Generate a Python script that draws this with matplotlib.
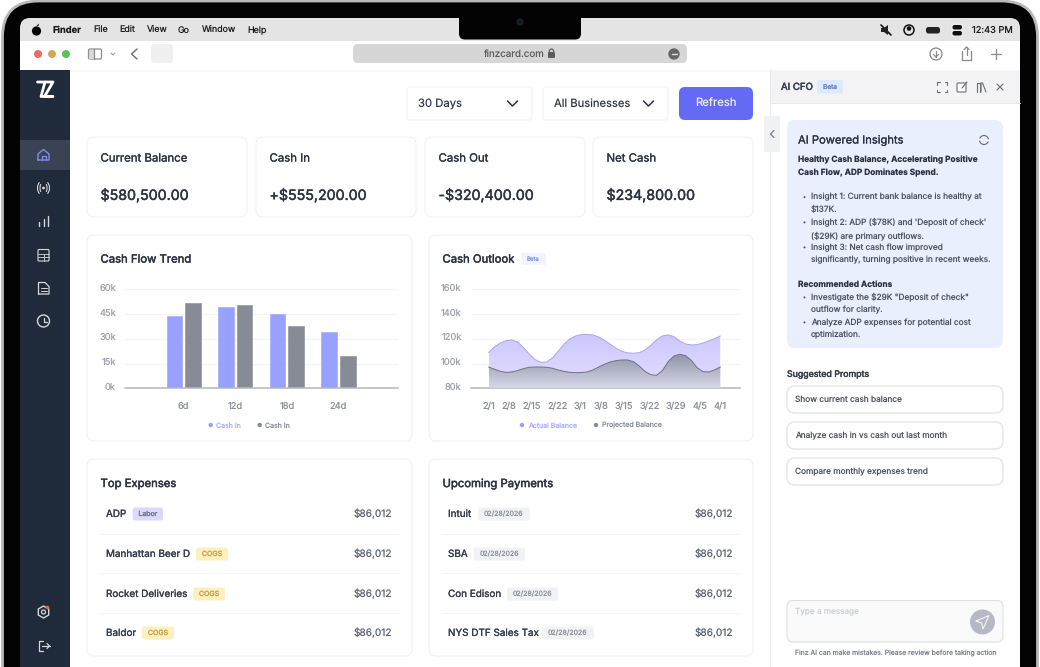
import numpy as np
import matplotlib
matplotlib.use("Agg")
import matplotlib.pyplot as plt
import matplotlib.patheffects as pe
from matplotlib.patches import FancyBboxPatch, Circle, Rectangle, Polygon, Arc
from matplotlib.transforms import ScaledTranslation

plt.rcParams["font.family"] = ["Inter", "DejaVu Sans"]
plt.rcParams["text.hinting"] = "no_hinting"
plt.rcParams["text.hinting_factor"] = 1

# Cash Flow Trend
flow_days = ["6d", "12d", "18d", "24d"]
flow_ticks = [0, 15, 30, 45, 60]
cash_in = [43.8, 49.1, 45.0, 34.1]
cash_out = [51.9, 50.7, 38.0, 19.4]

# Cash Outlook
outlook_labels = ["2/1", "2/8", "2/15", "2/22", "3/1", "3/8", "3/15", "3/22", "3/29", "4/5", "4/1"]
outlook_label_pos = [0, 0.88, 1.86, 2.97, 3.96, 4.86, 5.84, 6.95, 8.09, 9.11, 10]
outlook_ticks = [80, 100, 120, 140, 160]
outlook_x = [i / 4 for i in range(41)]
actual_balance = [109.1, 113.4, 116.6, 118.5, 119.1, 117.4, 112.9, 107.7, 103.2, 101.0, 101.3,
                  104.5, 109.9, 115.6, 119.9, 122.3, 123.4, 123.6, 123.1, 121.5, 118.8,
                  115.6, 112.3, 109.9, 108.6, 108.3, 108.8, 111.0, 114.7, 119.1, 122.3,
                  123.1, 121.8, 118.2, 115.8, 115.0, 115.3, 116.6, 118.2, 120.1, 122.3]
projected_balance = [97.2, 95.4, 93.7, 92.9, 93.2, 94.3, 95.9, 97.0, 97.2, 97.2, 97.0,
                     96.2, 94.8, 93.7, 92.9, 92.7, 92.7, 93.2, 94.8, 97.2, 99.4,
                     101.3, 102.4, 102.9, 102.9, 101.5, 98.0, 93.7, 91.0, 90.5, 94.3,
                     101.5, 106.1, 107.5, 106.4, 102.6, 96.7, 93.5, 93.2, 94.8, 97.2]

# Summary cards
card_titles = ["Current Balance", "Cash In", "Cash Out", "Net Cash"]
card_values = ["$580,500.00", "+$555,200.00", "-$320,400.00", "$234,800.00"]

# Lists
expense_names = ["ADP", "Manhattan Beer D", "Rocket Deliveries", "Baldor"]
expense_tags = ["Labor", "COGS", "COGS", "COGS"]
payment_names = ["Intuit", "SBA", "Con Edison", "NYS DTF Sales Tax"]
payment_date = "02/28/2026"
row_amount = "$86,012"

W, H = 1040, 667
DARK = "#2b3342"
GREY = "#a0a3ab"
BORDER = "#eff0f2"
STROKE = {"medium": 0.18, "semibold": 0.32}

fig = plt.figure(figsize=(W / 100, H / 100), dpi=100, facecolor="white")
ui = fig.add_axes([0, 0, 1, 1])
ui.set_xlim(0, W)
ui.set_ylim(H, 0)
ui.axis("off")


def box(x0, y0, x1, y1, r=0, fc="white", ec="none", lw=1, z=1):
    p = FancyBboxPatch((x0, y0), x1 - x0, y1 - y0, boxstyle=f"round,pad=0,rounding_size={r}",
                       fc=fc, ec=ec, lw=lw, zorder=z)
    ui.add_patch(p)
    return p


def txt(x, y, s, px=10, color=DARK, weight="normal", ha="left", z=5):
    # no medium or semibold cut of the font, so thicken the regular one
    extra = STROKE.get(weight)
    t = ui.text(x, y + 0.7, s, fontsize=px * 0.72, color=color, ha=ha, va="center", zorder=z,
                fontweight="normal" if extra else weight)
    if extra:
        t.set_path_effects([pe.withStroke(linewidth=extra, foreground=color)])


def line(xs, ys, color="#555555", lw=1, z=4):
    ui.plot(xs, ys, color=color, lw=lw, zorder=z, solid_capstyle="round", solid_joinstyle="round")


def ring(x, y, r, color, lw=1, fc="none", z=4):
    ui.add_patch(Circle((x, y), r, fc=fc, ec=color, lw=lw, zorder=z))


def chart_axes(x0, y0, x1, y1):
    ax = fig.add_axes([x0 / W, 1 - y1 / H, (x1 - x0) / W, (y1 - y0) / H])
    ax.patch.set_alpha(0)
    for s in ["top", "left", "right"]:
        ax.spines[s].set_visible(False)
    ax.spines["bottom"].set_color("#b4b6bf")
    ax.spines["bottom"].set_linewidth(1.1)
    ax.grid(axis="y", color="#f3f4f6", lw=0.8)
    ax.set_axisbelow(True)
    ax.tick_params(axis="y", length=0, pad=6.5, labelsize=6.7, labelcolor=GREY)
    ax.tick_params(axis="x", length=0, pad=10, labelsize=6.7, labelcolor="#8d9099")
    return ax


def nudge_labels(ax):
    # y labels sit a bit above their gridline
    shift = ScaledTranslation(0, 2 / 100, fig.dpi_scale_trans)
    for lab in ax.get_yticklabels():
        lab.set_transform(lab.get_transform() + shift)


def gradient_fill(ax, xs, ys, top, bottom, base, z):
    poly = ax.fill_between(xs, ys, base, color="none", lw=0)
    grad = np.linspace(np.array(top), np.array(bottom), 128).reshape(128, 1, 4)
    im = ax.imshow(grad, extent=[xs[0], xs[-1], base, max(ys)], aspect="auto", origin="upper", zorder=z)
    im.set_clip_path(poly.get_paths()[0], transform=ax.transData)


# laptop frame
box(2.5, 1, 1037.5, 760, r=36, fc="#030303", ec="#b9b9bb", lw=2)
box(20, 18, 1020, 100, r=10, fc="#e4e4e4", z=1)
ui.add_patch(Rectangle((20, 41), 1000, 640, fc="white", ec="none", zorder=1))
box(459, 6, 581, 39.5, r=6, fc="#030303", z=2)
ring(520, 22, 3, "#1b1f2a", fc="#14171f", z=3)

# menu bar
ui.add_patch(Circle((36.5, 31), 4.6, fc="black", ec="none", zorder=4))
ui.add_patch(Polygon([[36.5, 26], [39, 23.5], [38.5, 26]], fc="black", ec="none", zorder=4))
for x, s, wt in [(53, "Finder", "bold"), (93, "File", "normal"), (119, "Edit", "normal"),
                 (147, "View", "normal"), (178, "Go", "normal"), (202, "Window", "normal"),
                 (247.5, "Help", "normal")]:
    txt(x, 29.8, s, 9.3 if wt == "bold" else 8.9, "#1c1c1e", wt)
line([881, 891], [25, 35], "#111111", 1.2)
ui.add_patch(Polygon([[881, 28], [884, 28], [888, 25], [888, 35], [884, 32], [881, 32]], fc="#222222", zorder=4))
ring(909, 30, 5, "#111111", 1.1)
ring(909, 28.5, 1.6, "#111111", fc="#111111")
box(926, 27, 940, 33.5, r=2.5, fc="#222222")
box(951, 23.5, 963, 37, r=2, fc="#ececec", z=2)
box(952.5, 25, 962, 29.5, r=2, fc="#111111", z=3)
box(952.5, 31, 962, 35.5, r=2, fc="#111111", z=3)
txt(972, 29.8, "12:43 PM", 9.3, "#1c1c1e")

# browser toolbar
for x, c in [(38, "#ec6a5e"), (52, "#d8a44f"), (66, "#5ac05a")]:
    ui.add_patch(Circle((x, 54), 4, fc=c, ec="none", zorder=4))
box(88.5, 49, 101.5, 59, r=1.5, ec="#8c8c8c", lw=0.9)
line([93.5, 93.5], [49, 59], "#8c8c8c", 0.9)
ui.add_patch(Rectangle((89, 49.5), 4.5, 9, fc="#d8d8d8", zorder=3))
line([111, 113, 115], [53, 55, 53], "#9a9a9a", 0.8)
line([137, 131.5, 137], [49, 54, 59], "#777777", 1.1)
box(151, 44, 173, 63, r=4, fc="#f0f0f0")
box(353, 44, 687, 63, r=5, fc="#d6d6d6")
txt(483, 53.5, "finzcard.com", 9.8, "#5c5c5c")
box(548, 52, 555, 58, r=1, fc="#5c5c5c", z=3)
ui.add_patch(Arc((551.5, 52), 4.4, 6, theta1=180, theta2=360, ec="#5c5c5c", lw=0.9, zorder=3))
ring(674, 54, 5, "#666666", fc="#666666")
line([671.5, 676.5], [54, 54], "#dddddd", 1, z=5)
ring(936, 54, 6, "#8a8a8a", 0.9)
line([936, 936], [50.5, 57], "#8a8a8a", 0.9)
line([933.5, 936, 938.5], [54.5, 57, 54.5], "#8a8a8a", 0.9)
line([962, 962, 971, 971], [51, 60, 60, 51], "#8a8a8a", 0.9)
line([966.5, 966.5], [47, 55], "#8a8a8a", 0.9)
line([964, 966.5, 969], [49.5, 47, 49.5], "#8a8a8a", 0.9)
line([995.5, 995.5], [49, 59], "#8a8a8a", 0.9)
line([990.5, 1000.5], [54, 54], "#8a8a8a", 0.9)

# sidebar
ui.add_patch(Rectangle((20, 70), 50, 600, fc="#1f2a3a", ec="none", zorder=2))
ui.add_patch(Rectangle((20, 140), 50, 30, fc="#3a4353", ec="none", zorder=3))
ui.add_patch(Rectangle((70, 70), 950, 2, fc="#f7f7f8", ec="none", zorder=2))
line([37.5, 45, 41, 52.5], [82, 82, 96.5, 96.5], "#ffffff", 2)
line([45.5, 53, 44.5, 53], [82, 82, 96.5, 96.5], "#ffffff", 2)
line([38, 38, 43.5, 49, 49, 38], [160, 154, 149.5, 154, 160, 160], "#7f8ce6", 1)
line([41.5, 41.5, 45.5, 45.5], [160, 156, 156, 160], "#7f8ce6", 0.9)
ui.add_patch(Circle((43.5, 188), 1.4, fc="#d5d8de", zorder=4))
for off in [3.5, 6]:
    ui.add_patch(Arc((43.5, 188), off * 2, 9 + off, theta1=-55, theta2=55, ec="#d5d8de", lw=0.8, zorder=4))
    ui.add_patch(Arc((43.5, 188), off * 2, 9 + off, theta1=125, theta2=235, ec="#d5d8de", lw=0.8, zorder=4))
line([39, 39], [226, 222], "#d5d8de", 1)
line([43.5, 43.5], [226, 219], "#d5d8de", 1)
line([48, 48], [226, 216], "#d5d8de", 1)
box(38, 249.5, 49, 261, r=1, fc="none", ec="#d5d8de", lw=0.8, z=4)
line([38, 49], [253.5, 253.5], "#d5d8de", 0.6)
line([38, 49], [257.3, 257.3], "#d5d8de", 0.6)
line([43.5, 43.5], [253.5, 261], "#d5d8de", 0.6)
line([38.5, 38.5, 45, 49, 49, 38.5], [294, 282.5, 282.5, 286.5, 294, 294], "#d5d8de", 0.9)
line([41, 46.5], [288, 288], "#d5d8de", 0.7)
line([41, 46.5], [291, 291], "#d5d8de", 0.7)
ring(43.5, 321, 6, "#d5d8de", 1)
line([43.5, 43.5, 46.5], [317.5, 321.5, 321.5], "#d5d8de", 0.9)
ring(43.5, 612, 2, "#d5d8de", 0.9)
ui.add_patch(Polygon([[43.5, 606], [48.7, 609], [48.7, 615], [43.5, 618], [38.3, 615], [38.3, 609]],
                     fc="none", ec="#d5d8de", lw=1, zorder=4))
ui.add_patch(Circle((47.5, 607.5), 1.8, fc="#e0654f", zorder=5))
line([43, 38.5, 38.5, 43], [641, 641, 651, 651], "#d5d8de", 0.9)
line([42, 49.5], [646, 646], "#d5d8de", 0.9)
line([47, 49.5, 47], [643.5, 646, 648.5], "#d5d8de", 0.9)

# filter row
box(407, 87, 532, 120, r=3, ec=BORDER, lw=0.7)
txt(418, 103.3, "30 Days", 11.3, "#343b4a")
line([507.5, 512.5, 517.5], [101, 106, 101], "#2b3342", 1.1)
box(543, 87, 668, 120, r=3, ec=BORDER, lw=0.7)
txt(554, 103.3, "All Businesses", 11.2, "#343b4a")
line([643.5, 648.5, 653.5], [101, 106, 101], "#2b3342", 1.1)
box(679, 87, 753, 120, r=6, fc="#656af5")
txt(716, 103.3, "Refresh", 11.3, "#eeeefd", ha="center")

# summary cards
for x0, x1, t, v in zip([87, 256, 425, 593], [247, 416, 585, 753], card_titles, card_values):
    box(x0, 137, x1, 217, r=7, ec=BORDER, lw=0.7)
    txt(x0 + 13.5, 157.8, t, 11.4, DARK, "medium")
    txt(x0 + 13.5, 194.8, v, 14.2, DARK, "semibold")

# chart cards
box(87, 235, 412, 441, r=7, ec=BORDER, lw=0.7)
box(429, 235, 753, 441, r=7, ec=BORDER, lw=0.7)
txt(100.5, 258.8, "Cash Flow Trend", 11.3, DARK, "semibold")
txt(442.5, 258.8, "Cash Outlook", 11.3, DARK, "semibold")
box(521, 253, 546, 265, r=2, fc="#f0f4fe")
txt(533.5, 258.5, "Beta", 6, "#7f8ee0", ha="center")

# bar chart
ax1 = chart_axes(125, 289.3, 398, 388.3)
pos = np.arange(len(flow_days))
ax1.bar(pos - 0.18, cash_in, 0.3, color="#99a1ff", ec="#99a1ff", lw=0.4)
ax1.bar(pos + 0.18, cash_out, 0.3, color="#868b96", ec="#868b96", lw=0.4)
ax1.set_xlim(-1.138, 4.153)
ax1.set_ylim(0, 60)
ax1.set_xticks(pos, flow_days)
ax1.set_yticks(flow_ticks, [f"{v}k" for v in flow_ticks])
nudge_labels(ax1)

ui.add_patch(Circle((210.7, 425), 2.2, fc="#99a1ff", zorder=4))
txt(216, 425, "Cash In", 7, "#a6acff")
ui.add_patch(Circle((259.7, 425), 2.2, fc="#868b96", zorder=4))
txt(265, 425, "Cash In", 7, "#868b96")

# area chart
ax2 = chart_axes(470.7, 289.3, 739.7, 388.3)
gradient_fill(ax2, outlook_x, actual_balance, (0.80, 0.78, 1, 1), (0.87, 0.85, 1, 0.85), 80, 2)
gradient_fill(ax2, outlook_x, projected_balance, (0.52, 0.54, 0.60, 0.9), (0.84, 0.85, 0.90, 0.85), 80, 3)
ax2.plot(outlook_x, actual_balance, color="#a9a5f0", lw=0.7, zorder=4)
ax2.plot(outlook_x, projected_balance, color="#6f737f", lw=0.7, zorder=4)
ax2.set_xlim(-0.777, 10.84)
ax2.set_ylim(80, 160)
ax2.set_xticks(outlook_label_pos, outlook_labels)
ax2.set_yticks(outlook_ticks, [f"{v}k" for v in outlook_ticks])
nudge_labels(ax2)

ui.add_patch(Circle((522, 425), 2.2, fc="#99a1ff", zorder=4))
txt(528, 425, "Actual Balance", 7, "#a6acff")
ui.add_patch(Circle((596, 425), 2.2, fc="#868b96", zorder=4))
txt(602, 425, "Projected Balance", 7, "#868b96")

# list cards
row_y = [514, 554, 594, 633]
box(87, 459, 412, 656, r=7, ec=BORDER, lw=0.7)
box(429, 459, 753, 656, r=7, ec=BORDER, lw=0.7)
txt(100.5, 483.2, "Top Expenses", 11.3, DARK, "semibold")
txt(442.5, 483.2, "Upcoming Payments", 11.3, DARK, "semibold")
for y in [533.7, 573, 612.5]:
    line([100, 398], [y, y], "#f3f4f5", 0.7, z=2)
    line([442, 739], [y, y], "#f3f4f5", 0.7, z=2)

tag_x = [(132.7, 163), (196, 228), (193, 225), (142, 174)]
for y, n, t, (tx0, tx1) in zip(row_y, expense_names, expense_tags, tag_x):
    txt(106, y - 0.5, n, 9.9, "#343b4a", "medium")
    fc, tc = ("#dcdafc", "#73728f") if t == "Labor" else ("#fdf0bf", "#c7a44c")
    box(tx0, y - 6.5, tx1, y + 6.5, r=2.5, fc=fc)
    txt((tx0 + tx1) / 2, y - 0.7, t, 7, tc, "medium", ha="center")
    txt(392, y - 0.5, row_amount, 10.1, "#5c6270", ha="right")

date_x = [(478.3, 529.7), (473.7, 525), (507, 558), (542, 593.7)]
for y, n, (tx0, tx1) in zip(row_y, payment_names, date_x):
    txt(448, y - 0.5, n, 9.9, "#343b4a", "medium")
    box(tx0, y - 6.5, tx1, y + 6.5, r=2.5, fc="#f1f2f4")
    txt((tx0 + tx1) / 2, y - 0.7, payment_date, 7, "#8a8e98", ha="center")
    txt(733.5, y - 0.5, row_amount, 10.1, "#5c6270", ha="right")

# AI panel
line([770, 770], [70, 670], "#e9eaed", 0.8, z=3)
ui.add_patch(Rectangle((770.5, 71), 249.5, 32, fc="#f3f3f5", ec="none", zorder=2))
line([770, 1020], [103, 103], "#e7e8ea", 0.7, z=3)
txt(781, 86.5, "AI CFO", 9.6, "#343b4a", "semibold")
box(817, 80, 843, 93.5, r=2.5, fc="#dbeafe", z=3)
txt(830, 86.3, "Beta", 6.5, "#6f7fd0", "medium", ha="center")
for dx, dy in [(-1, -1), (1, -1), (-1, 1), (1, 1)]:
    cx, cy = 942 + dx * 3.2, 87 + dy * 3.2
    line([cx + dx * 1.5, cx + dx * 1.5, cx - dx * 0.7], [cy - dy * 0.7, cy + dy * 1.5, cy + dy * 1.5], "#6b6f78", 0.8)
box(957, 83, 966, 92, r=1, ec="#6b6f78", lw=0.8, z=3)
line([962, 967], [88, 82], "#6b6f78", 0.9)
line([977, 977, 979.5, 979.5], [92, 83, 83, 92], "#6b6f78", 0.8)
line([981, 981, 982.5, 986], [92, 83, 83, 92], "#6b6f78", 0.8)
line([997, 1003], [84, 90], "#6b6f78", 0.8)
line([1003, 997], [84, 90], "#6b6f78", 0.8)
box(764, 116, 780, 152, r=2, fc="#f0f1f3", z=4)
line([774, 770.5, 774], [130.5, 134, 137.5], "#6b6f78", 0.8, z=5)

box(787, 120, 1003, 348, r=8, fc="#e9effd")
txt(798, 139.7, "AI Powered Insights", 11.2, DARK, "medium")
ui.add_patch(Arc((984, 140), 9, 9, theta1=20, theta2=170, ec="#666a76", lw=0.8, zorder=4))
ui.add_patch(Arc((984, 140), 9, 9, theta1=200, theta2=350, ec="#666a76", lw=0.8, zorder=4))
txt(798, 159, "Healthy Cash Balance, Accelerating Positive", 8.3, DARK, "bold")
txt(798, 171.7, "Cash Flow, ADP Dominates Spend.", 8.3, DARK, "bold")
bullets = [(196.4, "Insight 1: Current bank balance is healthy at", True), (209, "$137K.", False),
           (221.7, "Insight 2: ADP ($78K) and 'Deposit of check'", True), (234.4, "($29K) are primary outflows.", False),
           (246.7, "Insight 3: Net cash flow improved", True), (259, "significantly, turning positive in recent weeks.", False),
           (296.7, "Investigate the $29K \"Deposit of check\"", True), (309, "outflow for clarity.", False),
           (321.7, "Analyze ADP expenses for potential cost", True), (334, "optimization.", False)]
for y, s, dot in bullets:
    txt(810.7, y, s, 8.3, "#4d5462")
    if dot:
        ui.add_patch(Circle((804.5, y + 0.7), 1, fc="#4d5462", zorder=4))
txt(798, 284, "Recommended Actions", 8.3, DARK, "bold")

txt(787, 373.7, "Suggested Prompts", 8.8, "#343b4a", "semibold")
prompts = ["Show current cash balance", "Analyze cash in vs cash out last month", "Compare monthly expenses trend"]
for y0, s in zip([386, 422, 458], prompts):
    box(787, y0, 1003, y0 + 27, r=8, ec="#dfe0e4", lw=0.8)
    txt(795, y0 + 13, s, 8.3, "#4d5462")

box(787, 600.5, 1003, 642, r=6, fc="#fafafb", ec="#dfe0e4", lw=0.8)
txt(795, 611.7, "Type a message", 8.2, "#cdd0d6")
ui.add_patch(Circle((982.5, 622), 12.5, fc="#b6b9c5", zorder=3))
line([976, 989, 983, 981.5, 976], [621, 615.5, 629, 623, 621], "#f4f4f7", 0.8)
txt(895.5, 652.8, "Finz AI can make mistakes. Please review before taking action", 6.85, "#7d818b", ha="center")

fig.savefig("out.png", dpi=100, facecolor="white")
